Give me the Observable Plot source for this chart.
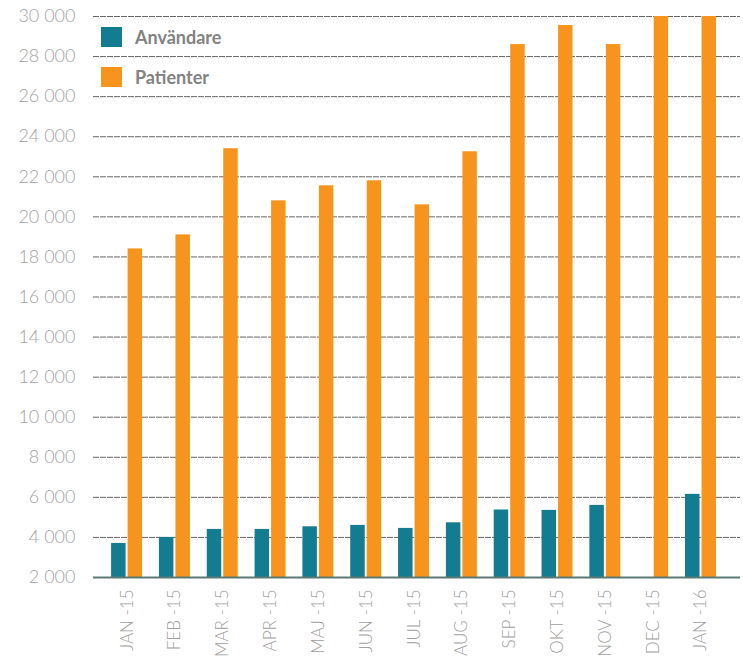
<!DOCTYPE html>
<html><head><meta charset="utf-8">
<script src="https://cdn.jsdelivr.net/npm/d3@7"></script>
<script src="https://cdn.jsdelivr.net/npm/@observablehq/plot@0.6"></script>
<style>
body{margin:0;background:#fff;}
#wrap{position:relative;width:743px;height:658px;}
#legend{position:absolute;left:101px;top:17px;font-family:Lato,"Open Sans",sans-serif;font-weight:700;font-size:18px;color:#828282;}
.item{display:flex;align-items:center;height:40px;}
.sw{width:21px;height:20px;margin-right:13px;}
</style></head><body><div id="wrap"><div id="legend"></div></div>
<script>
const months = ["JAN -15","FEB -15","MAR -15","APR -15","MAJ -15","JUN -15","JUL -15","AUG -15","SEP -15","OKT -15","NOV -15","DEC -15","JAN -16"];
const series = ["Användare","Patienter"];
const colors = ["#147c90","#f7941d"];
const anvandare = [3700,4000,4400,4400,4530,4600,4450,4730,5370,5350,5600,null,6150];
const patienter = [18400,19100,23400,20800,21550,21800,20600,23250,28600,29550,28600,30000,30000];
const yTicks = [2000,4000,6000,8000,10000,12000,14000,16000,18000,20000,22000,24000,26000,28000,30000];
const yBase = 2000;

const rowsA = months.map((m,i)=>({month:m, series:series[0], value:anvandare[i]})).filter(d=>d.value!=null);
const rowsP = months.map((m,i)=>({month:m, series:series[1], value:patienter[i]}));

const fmt = d => d3.format(",")(d).replace(/,/g," ");

const chart = Plot.plot({
  width:743, height:658,
  marginTop:16, marginBottom:81, marginLeft:93, marginRight:3,
  style:{fontFamily:"Lato, 'Open Sans', sans-serif", background:"#fff", color:"#a3a3a3"},
  x:{domain:months, paddingInner:0.352, paddingOuter:0.44, align:0.43, round:false, label:null},
  y:{domain:[2000,30000], label:null},
  marks:[
    Plot.ruleY(yTicks.filter(t=>t>yBase), {stroke:"#666", strokeWidth:1, strokeDasharray:"6,1"}),
    Plot.barY(rowsA, {x:"month", y1:yBase, y2:"value", fill:colors[0], insetRight:16.5, insetLeft:0}),
    Plot.barY(rowsP, {x:"month", y1:yBase, y2:"value", fill:colors[1], insetLeft:16.5, insetRight:0}),
    Plot.ruleY([yBase], {stroke:"#5c7a74", strokeWidth:2}),
    Plot.axisY({ticks:yTicks, tickSize:0, tickPadding:18, tickFormat:fmt, fontSize:18, fontWeight:300, fill:"#a3a3a3", label:null}),
    Plot.axisX({tickRotate:-90, tickSize:0, tickPadding:12, fontSize:17, fontWeight:300, fill:"#a0a0a0", label:null})
  ]
});
document.getElementById("wrap").prepend(chart);

const leg = document.getElementById("legend");
series.forEach((s,i)=>{
  const it = document.createElement("div"); it.className="item";
  const sw = document.createElement("div"); sw.className="sw"; sw.style.background=colors[i];
  const tx = document.createElement("span"); tx.textContent=s;
  it.append(sw,tx); leg.append(it);
});
</script></body></html>
